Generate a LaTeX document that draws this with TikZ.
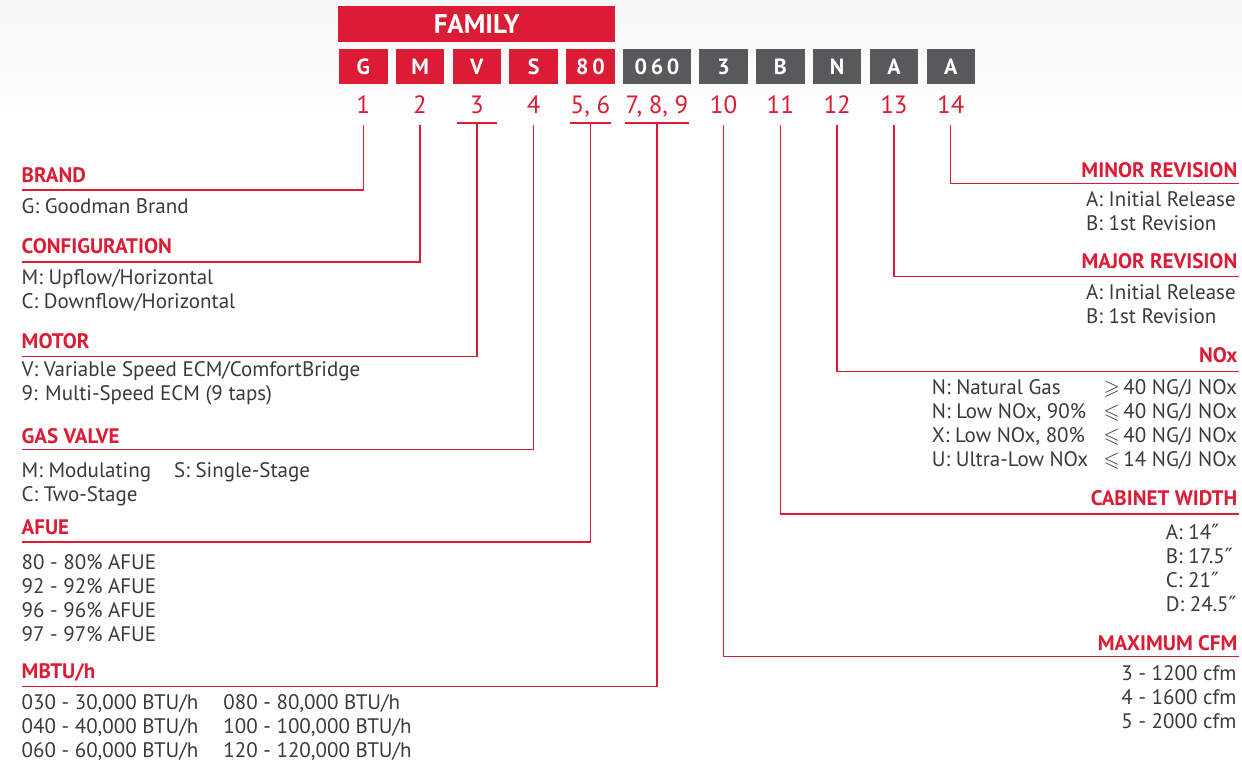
\documentclass[tikz,border=0pt]{standalone}
\usepackage{fontspec}
\setmainfont{PT Sans}
\newfontfamily\symfont{DejaVu Sans}
\usepackage{amssymb}
\usepackage{tikz}
\usetikzlibrary{positioning}
\definecolor{gdred}{HTML}{DC1C35}
\definecolor{gdgray}{HTML}{58595B}
\definecolor{gdtext}{HTML}{3A3A3A}
\definecolor{gdbg}{HTML}{F6F7F7}
\tikzstyle{lead} = [draw=gdred, line width=1.4pt]
\tikzstyle{box} = [fill=gdred, text=white, font=\bfseries\fontsize{22}{22}\selectfont, minimum width=48.5pt, minimum height=35.3pt, inner sep=0pt, outer sep=0pt]
\tikzstyle{greybox} = [box, fill=gdgray]
\tikzstyle{num} = [text=gdred, font=\fontsize{25}{25}\selectfont, inner xsep=0pt, inner ysep=11.7pt, text depth=0pt, anchor=base]
\tikzstyle{numline} = [num, inner ysep=9.4pt, minimum width=40pt]
\tikzstyle{head} = [text=gdred, font=\bfseries\fontsize{21}{24}\selectfont, inner sep=0pt]
\tikzstyle{body} = [text=gdtext, font=\fontsize{21}{24}\selectfont, inner sep=0pt]
\newcommand{\coderows}[2]{\begin{tabular}[t]{@{}#1@{}}#2\end{tabular}}
\newcommand{\inch}{{\symfont\fontsize{21}{24}\selectfont ″}}

\begin{document}
\begin{tikzpicture}[x=1pt, y=-1pt, node distance=8.3pt]
	\useasboundingbox (0,0) rectangle (1242,764);
	\shade[top color=gdbg, bottom color=white] (0,0) rectangle (1242,135);

	% model number boxes
	\node (b1) [box] at (363.25,66.65) {G};
	\node (b2) [box, right=of b1] {M};
	\node (b3) [box, right=of b2] {V};
	\node (b4) [box, right=of b3] {S};
	\node (b5) [box, right=of b4] {8\,0};
	\node (b6) [greybox, right=of b5, minimum width=68pt] {0\,6\,0};
	\node (b7) [greybox, right=of b6] {3};
	\node (b8) [greybox, right=of b7] {B};
	\node (b9) [greybox, right=of b8] {N};
	\node (b10) [greybox, right=of b9] {A};
	\node (b11) [greybox, right=of b10] {A};
	\node (family) [box, minimum width=276.5pt, minimum height=35.7pt, font=\bfseries\fontsize{27}{27}\selectfont] at (476.65,23.85) {FAMILY};

	% digit positions
	\coordinate (numrow) at (0,113.3);
	\node (n1) [num] at (b1 |- numrow) {1};
	\node (n2) [num] at (b2 |- numrow) {2};
	\node (n3) [numline] at (b3 |- numrow) {3};
	\node (n4) [num] at (b4 |- numrow) {4};
	\node (n56) [numline] at (b5 |- numrow) {5, 6};
	\node (n789) [numline, minimum width=64.3pt] at (b6 |- numrow) {7, 8, 9};
	\node (n10) [num] at (b7 |- numrow) {10};
	\node (n11) [num] at (b8 |- numrow) {11};
	\node (n12) [num] at (b9 |- numrow) {12};
	\node (n13) [num] at (b10 |- numrow) {13};
	\node (n14) [num] at (b11 |- numrow) {14};
	\foreach \n in {n3,n56,n789}
		\draw [lead] (\n.south west) -- (\n.south east);

	% left side
	\node (brand) [head, anchor=base west] at (21.5,182.7) {BRAND};
	\node (brandtxt) [body, anchor=base west] at (21.5,213.3) {G: Goodman Brand};
	\node (config) [head, anchor=base west] at (21.5,253.3) {CONFIGURATION};
	\node (configtxt) [body, anchor=base west] at (21.5,284) {\coderows{l}{M: Upflow/Horizontal\\ C: Downflow/Horizontal}};
	\node (motor) [head, anchor=base west] at (21.5,348.7) {MOTOR};
	\node (motortxt) [body, anchor=base west] at (21.5,376.7) {\coderows{l}{V: Variable Speed ECM/ComfortBridge\\ 9: Multi-Speed ECM (9 taps)}};
	\node (valve) [head, anchor=base west] at (21.5,443.3) {GAS VALVE};
	\node (valvetxt) [body, anchor=base west] at (21.5,477.3) {\coderows{p{152.5pt}@{}l}{M: Modulating & S: Single-Stage\\ C: Two-Stage}};
	\node (afue) [head, anchor=base west] at (21.5,534) {AFUE};
	\node (afuetxt) [body, anchor=base west] at (21.5,569) {\coderows{l}{80 - 80\% AFUE\\ 92 - 92\% AFUE\\ 96 - 96\% AFUE\\ 97 - 97\% AFUE}};
	\node (mbtu) [head, anchor=base west] at (21.5,678) {MBTU/h};
	\node (mbtutxt) [body, anchor=base west] at (21.5,709.7) {\coderows{p{201.8pt}@{}l}{030 - 30,000 BTU/h & 080 - 80,000 BTU/h\\ 040 - 40,000 BTU/h & 100 - 100,000 BTU/h\\ 060 - 60,000 BTU/h & 120 - 120,000 BTU/h}};

	% right side
	\node (minor) [head, anchor=base east] at (1237.5,177.3) {MINOR REVISION};
	\node (minortxt) [body, anchor=base west] at (1086,206) {\coderows{l}{A: Initial Release\\ B: 1st Revision}};
	\node (major) [head, anchor=base east] at (1237.5,268.3) {MAJOR REVISION};
	\node (majortxt) [body, anchor=base west] at (1086,299.3) {\coderows{l}{A: Initial Release\\ B: 1st Revision}};
	\node (nox) [head, anchor=base east] at (1237.5,362.7) {NOx};
	\node (noxtxt) [body, anchor=base west] at (931.7,394) {\coderows{l}{N: Natural Gas\\ N: Low NOx, 90\%\\ X: Low NOx, 80\%\\ U: Ultra-Low NOx}};
	\node (noxlvl) [body, anchor=base east] at (1237,394) {\coderows{r}{$\geqslant$\,40 NG/J NOx\\ $\leqslant$\,40 NG/J NOx\\ $\leqslant$\,40 NG/J NOx\\ $\leqslant$\,14 NG/J NOx}};
	\node (cabinet) [head, anchor=base east] at (1237.5,505) {CABINET WIDTH};
	\node (cabinettxt) [body, anchor=base west] at (1165.7,539) {\coderows{l}{A: 14\inch\\ B: 17.5\inch\\ C: 21\inch\\ D: 24.5\inch}};
	\node (cfm) [head, anchor=base east] at (1237.5,650) {MAXIMUM CFM};
	\node (cfmtxt) [body, anchor=base east] at (1236.5,680.7) {\coderows{r}{3 - 1200 cfm\\ 4 - 1600 cfm\\ 5 - 2000 cfm}};

	% leader lines
	\coordinate (brandln) at (21.5,190);
	\coordinate (configln) at (21.5,262);
	\coordinate (motorln) at (21.5,356.3);
	\coordinate (valveln) at (21.5,449.5);
	\coordinate (afueln) at (21.5,542);
	\coordinate (mbtuln) at (21.5,686.7);
	\coordinate (minorln) at (1238.5,183.5);
	\coordinate (majorln) at (1238.5,276.2);
	\coordinate (noxln) at (1238.5,371.5);
	\coordinate (cabinetln) at (1238.5,514);
	\coordinate (cfmln) at (1238.5,656.7);
	\draw [lead] (n1.south) |- (brandln);
	\draw [lead] (n2.south) |- (configln);
	\draw [lead] (n3.south) |- (motorln);
	\draw [lead] (n4.south) |- (valveln);
	\draw [lead] (n56.south) |- (afueln);
	\draw [lead] (n789.south) |- (mbtuln);
	\draw [lead] (n10.south) |- (cfmln);
	\draw [lead] (n11.south) |- (cabinetln);
	\draw [lead] (n12.south) |- (noxln);
	\draw [lead] (n13.south) |- (majorln);
	\draw [lead] (n14.south) |- (minorln);
\end{tikzpicture}
\end{document}
